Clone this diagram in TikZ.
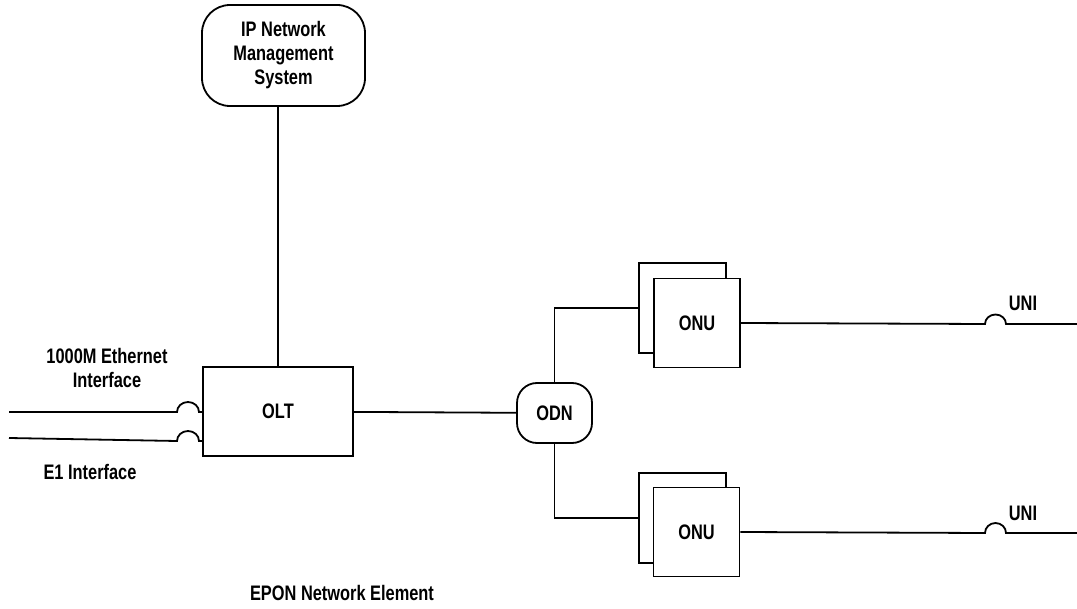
\documentclass[tikz,border=0pt]{standalone}
\usepackage{fontspec}
\setmainfont{Liberation Sans}[FakeStretch=0.78]
\begin{document}
\begin{tikzpicture}[x=1pt,y=-1pt,line width=1.8pt,
  txt/.style={font=\fontsize{21}{24}\selectfont\bfseries,align=center,inner sep=0pt},
  unit/.style={draw,fill=white,txt,minimum width=86pt,minimum height=89pt},
  back/.style={draw,fill=white,minimum width=87pt,minimum height=90pt,inner sep=0pt}]
\useasboundingbox (0,0) rectangle (1077,609);

% management system and line terminal
\node[draw,txt,rounded corners=28pt,minimum width=163pt,minimum height=101pt] (nms) at (283.5,55.5) {IP Network\\Management\\System};
\node[draw,txt,minimum width=150pt,minimum height=89pt] (olt) at (278,411.5) {OLT};
\draw (olt.north) -- (olt.north |- nms.south);

% distribution network
\node[draw,txt,rounded corners=20pt,minimum width=75pt,minimum height=60pt] (odn) at (554.5,413) {ODN};
\draw (olt) -- (odn);

% network units (stacked)
\node[back] (onuAb) at (682.5,308) {};
\node[unit] (onuA) at (697,323) {ONU};
\node[back] (onuBb) at (682.5,518) {};
\node[unit] (onuB) at (696.5,532) {ONU};
\draw (odn.north) |- (onuAb.west);
\draw (odn.south) |- (onuBb.west);

% user interfaces
\coordinate (jA) at (985,324);
\coordinate (jB) at (985,533);
\coordinate (endA) at (1077,324);
\coordinate (endB) at (1077,533);
\draw (onuA.east) -- (jA) arc[start angle=180,end angle=360,x radius=10.5,y radius=9.5] -- (endA);
\draw (onuB.east) -- (jB) arc[start angle=180,end angle=360,x radius=10.5,y radius=10] -- (endB);
\node[txt] (uniA) at (1023,303) {UNI};
\node[txt] (uniB) at (1023,513) {UNI};

% line terminal inputs
\coordinate (ethIn) at (9,412);
\coordinate (ethJ) at (177,412);
\coordinate (e1In) at (9,438);
\coordinate (e1J) at (177,441);
\draw (ethIn) -- (ethJ) arc[start angle=180,end angle=360,x radius=11,y radius=10] -- (olt.west |- ethJ);
\draw (e1In) -- (e1J) arc[start angle=180,end angle=360,x radius=11,y radius=10] -- (olt.west |- e1J);
\node[txt] (ethLbl) at (107,368) {1000M Ethernet\\Interface};
\node[txt] (e1Lbl) at (90,472) {E1 Interface};

\node[txt] (title) at (342,593) {EPON Network Element};
\end{tikzpicture}
\end{document}
